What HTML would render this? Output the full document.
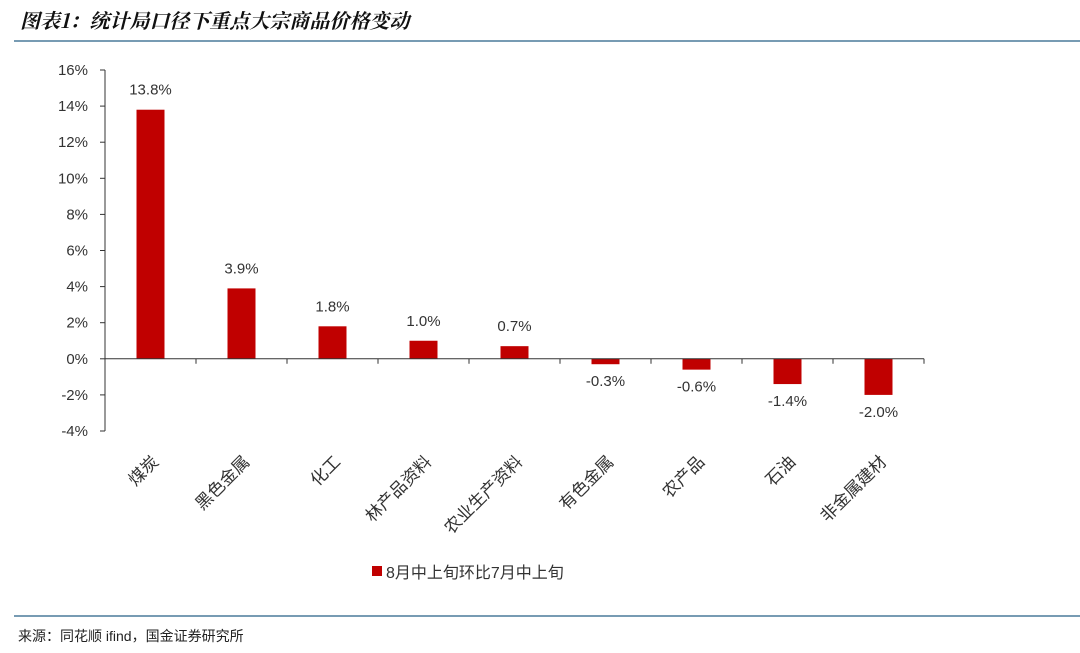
<!DOCTYPE html>
<html><head><meta charset="utf-8"><style>
body{margin:0;background:#fff;width:1080px;height:653px;overflow:hidden;font-family:"Liberation Sans","Noto Sans CJK SC",sans-serif}
</style></head><body>
<svg width="1080" height="653" style="position:absolute;left:0;top:0">
<text x="20" y="28" font-size="20" font-style="italic" font-weight="bold" fill="#111" font-family="'Noto Serif CJK SC','Liberation Serif',serif">图表1：统计局口径下重点大宗商品价格变动</text>
<line x1="14" y1="41" x2="1080" y2="41" stroke="#4a7a9a" stroke-width="1.5"/>
<g id="plot"></g>
<rect x="372" y="566" width="10" height="10" fill="#c00000"/>
<text x="386" y="578" font-size="16" fill="#333">8月中上旬环比7月中上旬</text>
<line x1="14" y1="616" x2="1080" y2="616" stroke="#4a7a9a" stroke-width="1.5"/>
<text x="18" y="641" font-size="14" fill="#222">来源：同花顺 ifind，国金证券研究所</text>
</svg>
<script>
const categories=["煤炭","黑色金属","化工","林产品资料","农业生产资料","有色金属","农产品","石油","非金属建材"];
const values=[13.8,3.9,1.8,1.0,0.7,-0.3,-0.6,-1.4,-2.0];
const valueLabels=["13.8%","3.9%","1.8%","1.0%","0.7%","-0.3%","-0.6%","-1.4%","-2.0%"];
const yTicks=[16,14,12,10,8,6,4,2,0,-2,-4];
const NS="http://www.w3.org/2000/svg";
const g=document.getElementById('plot');
const x0=105,x1=924,yTop=70,yBot=431,yMax=16,yMin=-4;
const y=v=>yTop+(yMax-v)/(yMax-yMin)*(yBot-yTop);
const bw=(x1-x0)/categories.length;
const xc=i=>x0+bw*(i+0.5);
function mk(t,a){const e=document.createElementNS(NS,t);for(const k in a)e.setAttribute(k,a[k]);g.appendChild(e);return e;}
yTicks.forEach(t=>{
 const e=mk('text',{x:88,y:y(t)+5,'font-size':15,'text-anchor':'end',fill:'#333'});
 
 
 e.textContent=t+'%';
 const l=mk('line',{x1:x0-5,x2:x0,y1:y(t),y2:y(t),stroke:'#333'});
 
 
});
const ya=mk('line',{x1:x0,x2:x0,y1:yTop,y2:yBot,stroke:'#333'});


values.forEach((v,i)=>{
 const top=Math.min(y(v),y(0)),h=Math.abs(y(v)-y(0));
 const r=mk('rect',{x:xc(i)-14,y:top,width:28,height:h,fill:'#c00000'});
 
 
 const ly=v>=0?y(v)-15:y(v)+22;
 const t=mk('text',{x:xc(i),y:ly,'font-size':15,'text-anchor':'middle',fill:'#333'});
 
 
 t.textContent=valueLabels[i];
 const c=mk('text',{x:0,y:0,'font-size':17,'text-anchor':'end',fill:'#333',transform:`translate(${xc(i)+9},${y(0)+104}) rotate(-45)`});
 
 
 c.textContent=categories[i];
});
for(let i=0;i<=categories.length;i++){
 const l=mk('line',{x1:x0+bw*i,x2:x0+bw*i,y1:y(0),y2:y(0)+5,stroke:'#333'});
 
 
}
const xa=mk('line',{x1:x0,x2:x1,y1:y(0),y2:y(0),stroke:'#333'});


</script>
</body></html>
